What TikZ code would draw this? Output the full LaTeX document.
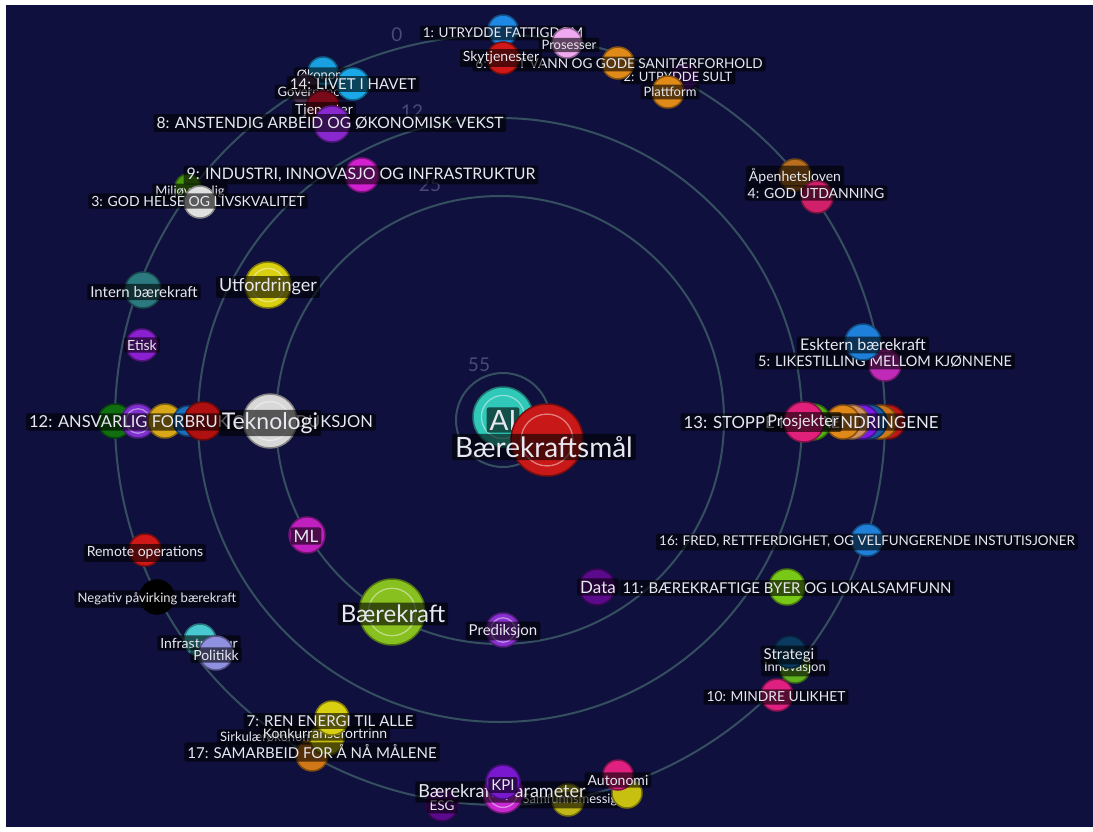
\documentclass[tikz,border=0pt]{standalone}
\usepackage{fontspec}
\setmainfont{Lato}
\definecolor{bg}{HTML}{10103F}
\definecolor{ringc}{HTML}{34505E}
\definecolor{ringtxt}{HTML}{4A4A78}
\definecolor{labtext}{HTML}{E8E8F0}
\tikzset{
  dotn/.style={circle, inner sep=0pt, line width=1.5pt},
  lbl/.style={fill=black, fill opacity=0.6, text opacity=1, text=labtext, inner xsep=3pt, inner ysep=2.5pt, rounded corners=2pt},
  ringline/.style={draw=ringc, line width=2pt},
  ringlab/.style={text=ringtxt, font={\fontsize{19}{19}\selectfont}, inner sep=0pt}
}
\newcommand\dotc[5]{\definecolor{col#1}{HTML}{#5}\node[dotn, minimum size=#4pt, fill=col#1, draw=col#1!60!black] (#1) at (#2,#3) {};}
\newcommand\dothl[5]{\dotc{#1}{#2}{#3}{#4}{#5}\draw[white, draw opacity=0.45, line width=1.3pt] (#1.center) circle[radius=#4*0.36];}
\newcommand\lab[5]{\node[lbl, font={\fontsize{#4}{#4}\selectfont}] (#1) at (#2,#3) {#5};}
\begin{document}
\begin{tikzpicture}[x=1pt,y=-1pt]
\useasboundingbox (0,0) rectangle (1093,832);
\fill[white] (0,0) rectangle (1093,832);
\fill[bg] (6,5) rectangle (1093,827);
% rings
\coordinate (c) at (500,420);
\coordinate (c55) at (503,420);
\draw[ringline] (c) circle[radius=385];
\draw[ringline] (c) circle[radius=302];
\draw[ringline] (c) circle[radius=224];
\draw[ringline] (c55) circle[radius=47];
\node[ringlab] (r0) at (397,35) {0};
\node[ringlab] (r12) at (412,112) {12};
\node[ringlab] (r25) at (430,185) {25};
\node[ringlab] (r55) at (479,365) {55};
% top
\dotc{n1}{503}{30}{30}{1E88E5}
\lab{n1l}{503}{33}{13.5}{1: UTRYDDE FATTIGDOM}
\dotc{n2}{684}{77}{28}{4A1080}
\lab{n2l}{678}{77}{13}{2: UTRYDDE SULT}
\dotc{n6}{618}{63}{32}{E08A1A}
\lab{n6l}{619}{64}{13.6}{6: RENT VANN OG GODE SANITÆRFORHOLD}
\dotc{sky}{503}{58}{32}{D01818}
\lab{skyl}{501}{58}{14}{Skytjenester}
\dotc{pros}{567}{43}{30}{F0A8F0}
\lab{prosl}{569}{45}{13}{Prosesser}
\dotc{platt}{668}{92}{32}{E08A1A}
\lab{plattl}{670}{92}{13}{Plattform}
% top left
\dotc{oko}{323}{72}{30}{1AA0E0}
\lab{okol}{323}{75}{13}{Økonomi}
\dotc{gov}{305}{90}{30}{4A3050}
\lab{govl}{312}{92}{13}{Governance}
\dotc{n14}{353}{84}{32}{1AA8E8}
\lab{n14l}{353}{84}{15}{14: LIVET I HAVET}
\dotc{tje}{323}{108}{34}{7A0A1A}
\lab{tjel}{324}{111}{14}{Tjenester}
\dotc{n8}{332}{124}{36}{8A28D0}
\lab{n8l}{330}{123}{15.6}{8: ANSTENDIG ARBEID OG ØKONOMISK VEKST}
\dotc{milj}{188}{187}{26}{4A9A10}
\lab{miljl}{190}{192}{13}{Miljøvennlig}
\dotc{n3}{200}{202}{32}{E0E0E0}
\lab{n3l}{198}{201}{14}{3: GOD HELSE OG LIVSKVALITET}
\dotc{n9}{362}{175}{34}{D020D0}
\lab{n9l}{361}{175}{15.9}{9: INDUSTRI, INNOVASJO OG INFRASTRUKTUR}
% top right
\dotc{apen}{795}{175}{32}{B87020}
\lab{apenl}{795}{176}{14}{Åpenhetsloven}
\dotc{n4}{817}{197}{32}{D0206A}
\lab{n4l}{816}{193}{14}{4: GOD UTDANNING}
% left middle
\dotc{intern}{143}{290}{36}{2A7A80}
\lab{internl}{144}{292}{15}{Intern bærekraft}
\dothl{utf}{268}{285}{46}{D8D010}
\lab{utfl}{268}{287}{18}{Utfordringer}
\dotc{etisk}{142}{345}{32}{8A20D0}
\lab{etiskl}{142}{345}{14}{Etisk}
\dotc{g12a}{115}{421}{34}{107010}
\dothl{g12b}{138}{421}{34}{8030D0}
\dotc{g12c}{165}{421}{34}{D8A818}
\dotc{g12d}{188}{421}{30}{1A70C0}
\dotc{n12}{203}{421}{38}{B01010}
\lab{n12l}{201}{422}{16.5}{12: ANSVARLIG FORBRUK OG PRODUKSJON}
\dothl{tek}{270}{421}{54}{D8D8D8}
\lab{tekl}{270}{423}{23}{Teknologi}
% right middle
\dotc{n5}{885}{365}{32}{C02AB8}
\lab{n5l}{885}{361}{14.5}{5: LIKESTILLING MELLOM KJØNNENE}
\dotc{ext}{863}{342}{36}{1E80D8}
\lab{extl}{863}{345}{16}{Esktern bærekraft}
\dotc{r13f}{888}{422}{34}{C01818}
\dotc{r13e}{880}{422}{34}{D07818}
\dotc{r13d}{870}{422}{34}{1A5AA0}
\dotc{r13c}{862}{422}{34}{7A1AE8}
\dotc{r13b}{852}{422}{34}{D09060}
\dotc{r13a}{843}{422}{34}{E08818}
\dotc{n13}{813}{422}{36}{50B010}
\lab{n13l}{811}{422}{16.8}{13: STOPPE KLIMAENDRINGENE}
\dotc{prj}{804}{422}{40}{E0207A}
\lab{prjl}{803}{422}{16}{Prosjekter}
% center
\dothl{ai}{503}{417}{60}{30C8B8}
\lab{ail}{503}{420}{28}{AI}
\dothl{bm}{547}{440}{72}{C81818}
\lab{bml}{544}{447}{28}{Bærekraftsmål}
% lower left
\dotc{ml}{307}{535}{36}{C020C0}
\lab{mll}{306}{536}{17}{ML}
\dotc{remote}{145}{550}{32}{D01818}
\lab{remotel}{145}{553}{14}{Remote operations}
\dotc{neg}{157}{597}{34}{000000}
\lab{negl}{157}{599}{13}{Negativ påvirking bærekraft}
\dotc{infra}{200}{640}{32}{48C8D0}
\lab{infral}{199}{643}{14}{Infrastruktur}
\dotc{pol}{216}{653}{34}{9090E0}
\lab{poll}{216}{655}{14}{Politikk}
\dothl{bk}{392}{612}{66}{88C020}
\lab{bkl}{393}{614}{24}{Bærekraft}
\dothl{pred}{503}{630}{34}{8A30D0}
\lab{predl}{503}{631}{15}{Prediksjon}
\dotc{data}{597}{587}{36}{5A0A8A}
\lab{datal}{598}{587}{17}{Data}
% lower right
\dotc{n16}{867}{540}{32}{1E80D8}
\lab{n16l}{867}{542}{13.4}{16: FRED, RETTFERDIGHET, OG VELFUNGERENDE INSTUTISJONER}
\dotc{n11}{787}{587}{36}{78C818}
\lab{n11l}{787}{588}{14.9}{11: BÆREKRAFTIGE BYER OG LOKALSAMFUNN}
\dotc{innov}{795}{668}{30}{60B020}
\lab{innovl}{795}{668}{13}{Innovasjon}
\dotc{strat}{790}{652}{32}{0A3A60}
\lab{stratl}{789}{655}{15}{Strategi}
\dotc{n10}{777}{695}{32}{E02080}
\lab{n10l}{776}{697}{13.8}{10: MINDRE ULIKHET}
% bottom
\dotc{n17}{312}{755}{32}{D07818}
\node[lbl, font={\fontsize{13}{13}\selectfont}, anchor=west] (sirkl) at (217,737) {Sirkulærøkonomi};
\dotc{konk}{327}{738}{34}{C8C010}
\lab{konkl}{325}{733}{14}{Konkurransefortrinn}
\dotc{n7}{332}{718}{34}{D8D010}
\lab{n7l}{330}{721}{15}{7: REN ENERGI TIL ALLE}
\lab{n17l}{312}{752}{15}{17: SAMARBEID FOR Å NÅ MÅLENE}
\dotc{samf}{568}{800}{32}{C0B818}
\lab{samfl}{570}{800}{13}{Samfunnsmessig}
\dotc{esg}{442}{805}{32}{5A0A8A}
\lab{esgl}{442}{806}{13.5}{ESG}
\dothl{bkp}{503}{793}{40}{C828D0}
\lab{bkpl}{502}{792}{18}{Bærekraftsparameter}
\dotc{kpi}{503}{782}{34}{7A18D0}
\lab{kpil}{503}{785}{15}{KPI}
\dotc{y2}{627}{793}{30}{C8C010}
\dotc{auton}{618}{775}{30}{E02080}
\lab{autonl}{618}{780}{14}{Autonomi}
\end{tikzpicture}
\end{document}
